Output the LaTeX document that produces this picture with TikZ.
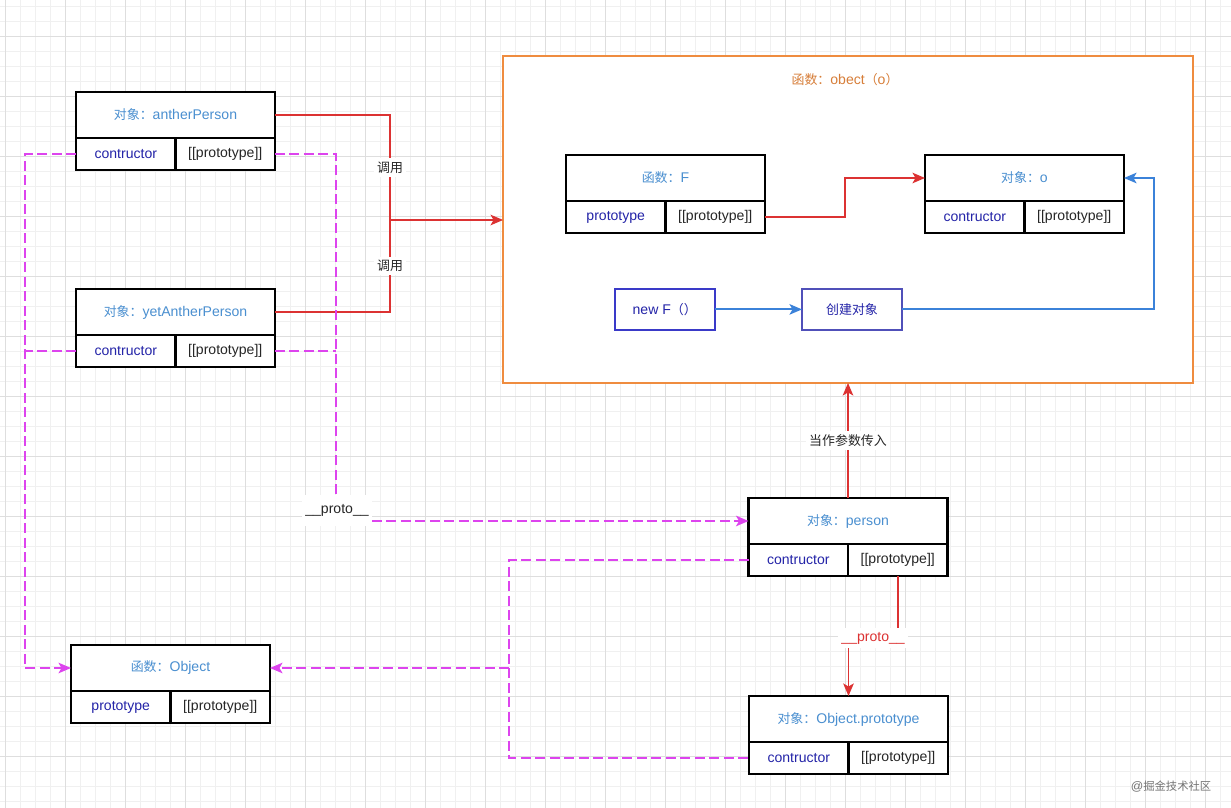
\documentclass[tikz,border=0pt]{standalone}
\usepackage{fontspec}
\setmainfont{Liberation Sans}
\newfontfamily\cjk{Noto Sans CJK SC}[Scale=0.92]
\usepackage{xcolor}
\usetikzlibrary{calc}
\usetikzlibrary{arrows.meta,positioning}
\definecolor{headblue}{HTML}{4A8FD0}
\definecolor{rowblue}{HTML}{2424A8}
\definecolor{callred}{HTML}{DC3232}
\definecolor{protomag}{HTML}{DD44EE}
\definecolor{fnorange}{HTML}{EF8C3F}
\definecolor{newblue}{HTML}{3B82D9}
\definecolor{boxblue}{HTML}{3A3AC8}
\tikzset{
	head/.style={draw, line width=1.35pt, fill=white, minimum width=3.98cm, minimum height=0.92cm, inner sep=0pt, outer sep=0pt, text=headblue},
	cell/.style={draw, line width=1.35pt, fill=white, minimum width=1.99cm, minimum height=0.64cm, inner sep=0pt, outer sep=0pt, text=black!85},
	stepbox/.style={draw=boxblue, line width=1.3pt, fill=white, minimum width=2cm, minimum height=0.82cm, inner sep=0pt, outer sep=0pt, text=rowblue},
	outerbox/.style={draw=fnorange, line width=1.1pt, fill=white, minimum width=13.8cm, minimum height=6.54cm, inner sep=0pt, outer sep=0pt},
	lbl/.style={fill=white, inner sep=2pt, text=black!85},
	toarrow/.style={-{Stealth[length=2.5mm,width=2.1mm,inset=0.6mm]}},
	redline/.style={draw=callred, line width=1.1pt},
	blueline/.style={draw=newblue, line width=1.1pt},
	protoline/.style={draw=protomag, line width=1.1pt, dash pattern=on 0.2cm off 0.09cm},
	minorgrid/.style={draw=black!6, line width=0.4pt},
	majorgrid/.style={draw=black!13, line width=0.5pt}
}
\begin{document}
\begin{tikzpicture}[x=0.02cm, y=-0.02cm, font=\fontsize{8}{9.6}\selectfont]
	\useasboundingbox (0,0) rectangle (1231,808);
	\fill[white] (0,0) rectangle (1231,808);
	\foreach \g in {5,20,...,1231} \draw[minorgrid] (\g,0) -- (\g,808);
	\foreach \g in {6,21,...,808} \draw[minorgrid] (0,\g) -- (1231,\g);
	\foreach \g in {5,65,...,1231} \draw[majorgrid] (\g,0) -- (\g,808);
	\foreach \g in {36,96,...,808} \draw[majorgrid] (0,\g) -- (1231,\g);

	\node[outerbox] (outer) at (848,219.5) {};
	\node[text=fnorange!90!black] (outerTitle) at (845,80) {{\cjk 函数：}obect{\cjk （}o{\cjk ）}};

	\node[head] (aHead) at (175.5,115) {{\cjk 对象：}antherPerson};
	\node[cell, text=rowblue, below right=0pt of aHead.south west] (aCon) {contructor};
	\node[cell, below left=0pt of aHead.south east] (aPro) {[[prototype]]};

	\node[head] (yHead) at (175.5,312) {{\cjk 对象：}yetAntherPerson};
	\node[cell, text=rowblue, below right=0pt of yHead.south west] (yCon) {contructor};
	\node[cell, below left=0pt of yHead.south east] (yPro) {[[prototype]]};

	\node[head] (fHead) at (665.5,178) {{\cjk 函数：}F};
	\node[cell, text=rowblue, below right=0pt of fHead.south west] (fCon) {prototype};
	\node[cell, below left=0pt of fHead.south east] (fPro) {[[prototype]]};

	\node[head] (oHead) at (1024.5,178) {{\cjk 对象：}o};
	\node[cell, text=rowblue, below right=0pt of oHead.south west] (oCon) {contructor};
	\node[cell, below left=0pt of oHead.south east] (oPro) {[[prototype]]};

	\node[stepbox] (newF) at (664.7,309.4) {new F{\cjk （）}};
	\node[stepbox, draw=rowblue!80] (mkObj) at (852,309.4) {{\cjk 创建对象}};

	\node[head] (pHead) at (848,521) {{\cjk 对象：}person};
	\node[cell, text=rowblue, below right=0pt of pHead.south west] (pCon) {contructor};
	\node[cell, below left=0pt of pHead.south east] (pPro) {[[prototype]]};

	\node[head] (objHead) at (170.5,668) {{\cjk 函数：}Object};
	\node[cell, text=rowblue, below right=0pt of objHead.south west] (objCon) {prototype};
	\node[cell, below left=0pt of objHead.south east] (objPro) {[[prototype]]};

	\node[head] (opHead) at (848.5,719) {{\cjk 对象：}Object.prototype};
	\node[cell, text=rowblue, below right=0pt of opHead.south west] (opCon) {contructor};
	\node[cell, below left=0pt of opHead.south east] (opPro) {[[prototype]]};

	\coordinate (callJoin) at (390,220);
	\draw[redline] (aHead.east) -| node[pos=0.75, lbl]{{\cjk 调用}} (callJoin);
	\draw[redline] (yHead.east) -| node[pos=0.75, lbl]{{\cjk 调用}} (callJoin);
	\draw[redline, toarrow] (callJoin) -- (callJoin -| outer.west);
	\draw[redline, toarrow] (fPro.east) -- ++(80,0) |- (oHead.west);
	\draw[redline, toarrow] (pHead.north) -- node[lbl]{{\cjk 当作参数传入}} (pHead.north |- outer.south);
	\draw[redline, toarrow] (pPro.south) -- ++(0,62) -| node[pos=0.25, lbl, minimum height=0.38cm, text=callred]{\_\_proto\_\_} (opHead.north);

	\draw[blueline, toarrow] (newF.east) -- (mkObj.west);
	\draw[blueline, toarrow] (mkObj.east) -- ++(252,0) |- (oHead.east);

	\coordinate (leftRail) at (25,668);
	\draw[protoline, toarrow] (aCon.west) -| (leftRail) -- (objHead.west);
	\draw[protoline] (yCon.west) -- (yCon.west -| leftRail);
	\coordinate (protoTurn) at (336,521);
	\draw[protoline, toarrow] (aPro.east) -| (protoTurn) -- (pHead.west);
	\draw[protoline] (yPro.east) -- (yPro.east -| protoTurn);
	\node[lbl, minimum height=0.62cm, minimum width=1.3cm] (protoLbl) at (337,510) {\_\_proto\_\_};
	\coordinate (midRail) at (509,668);
	\draw[protoline] (pCon.west) -| (midRail) |- (opCon.west);
	\draw[protoline, toarrow] (midRail) -- (objHead.east);

	\node[text=black!55, font=\fontsize{7}{8}\selectfont] (juejin) at (1171,787) {@{\cjk 掘金技术社区}};
\end{tikzpicture}
\end{document}
